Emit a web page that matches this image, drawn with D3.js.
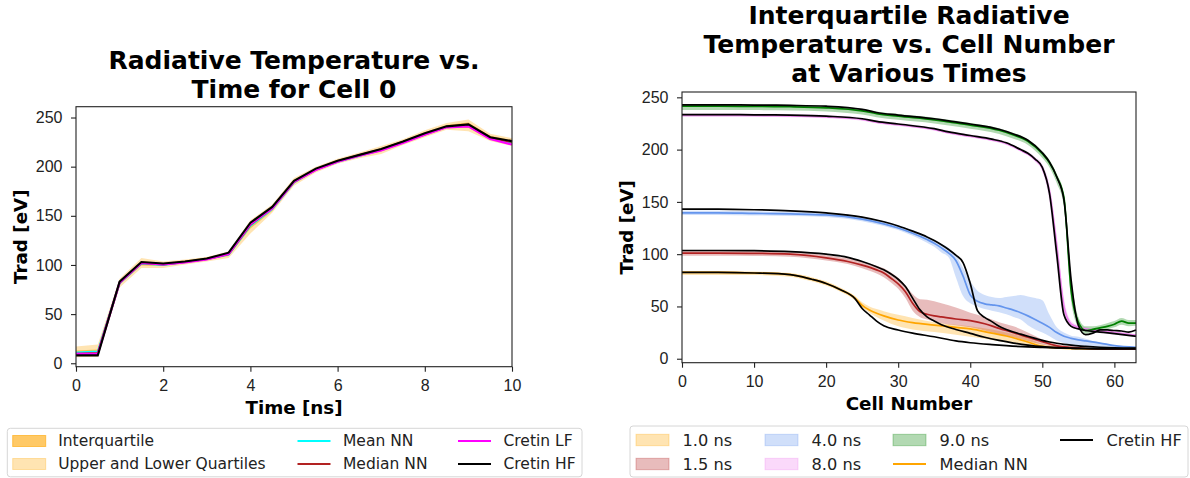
<!DOCTYPE html>
<html>
<head>
<meta charset="utf-8">
<script src="https://cdn.jsdelivr.net/npm/d3@7/dist/d3.min.js"></script>
<style>
  body { margin: 0; background: #fff; }
  svg { font-family: "DejaVu Sans", sans-serif; }
  .axis line { stroke: #222; stroke-width: 1.1; }
  .axis text { font-size: 16px; fill: #222; }
  .label { font-size: 18.3px; font-weight: bold; fill: #000; }
  .title { font-size: 25px; font-weight: bold; fill: #000; }
  .legend text { fill: #222; }
</style>
</head>
<body>
<script>
// ---- left chart: Trad of cell 0 over time ----
var times = [0, 0.5, 1, 1.5, 2, 2.5, 3, 3.5, 4, 4.5, 5, 5.5, 6, 6.5, 7, 7.5, 8, 8.5, 9, 9.5, 10];
var cretinHF0 = [8, 8, 83, 103, 101.5, 103.5, 106.5, 112.5, 143, 159, 185.5, 198, 206, 212, 218, 225.5, 234, 241, 243, 230, 226];
var cretinLF0 = [9.5, 9.5, 82, 102, 100.5, 102.5, 105.5, 111, 141.5, 157.5, 184.5, 196.5, 205, 211, 216.5, 224, 232.5, 240, 241, 228, 222.5];
var meanNN0   = [11, 12, 81.5, 101.5, 100, 103, 106, 110.5, 140, 157, 184, 197, 205, 211, 217, 225, 233, 240.5, 242, 229, 224.5];
var medianNN0 = [9.5, 10.5, 82, 102, 100.5, 103, 106, 111, 141, 158, 184.5, 197, 205.5, 211.5, 217.5, 225, 233, 240.5, 242.5, 229.5, 225];
var iqLo0  = [8, 8.5, 80, 99.5, 99, 102, 105, 109, 137, 155, 182.5, 195.5, 204, 210, 215.5, 223.5, 231.5, 239, 239.5, 227.5, 223.5];
var iqHi0  = [13, 14, 84, 104, 102, 104.5, 107.5, 112.5, 143.5, 160, 186.5, 198.5, 207, 213, 219, 226.5, 235, 242.5, 245, 231.5, 227];
var outLo0 = [6, 6.5, 77, 97, 97, 100.5, 103.5, 107, 132, 153, 180.5, 194, 203, 208.5, 213, 222, 230, 237.5, 236, 226, 221];
var outHi0 = [17, 19, 86, 107, 103.5, 105.5, 108, 114, 145.5, 161.5, 188.5, 200, 208, 214.5, 221, 228, 237, 244.5, 248, 233.5, 229];
var timeTicks = [0, 2, 4, 6, 8, 10];
var tradTicks = [0, 50, 100, 150, 200, 250];

// ---- right chart: Trad over cell number at various times ----
var cells1 = [0, 5, 10, 15, 18, 20, 22, 24, 25, 26, 27, 28, 30, 32, 35, 38, 40, 43, 45, 48, 50, 52, 55, 58, 63];
var hf1  = [82.5, 82.5, 82, 80.5, 76, 72, 66, 57.5, 48, 42, 36, 31.5, 27.5, 24.5, 21, 17, 15.3, 13.5, 12.5, 11.3, 10.8, 10.4, 10, 9.8, 9.8];
var med1 = [82.5, 82.5, 82, 80.5, 76, 72, 66, 58, 51, 46.5, 43.5, 41, 37, 34.5, 32.2, 30, 28.5, 24.5, 21.7, 16, 11.8, 10.4, 9.6, 9.4, 9.4];
var lo1  = [80, 80, 80, 78.5, 74, 70, 64, 56, 49, 44, 40, 36.5, 31, 28, 25.5, 23, 21, 18, 15.5, 12, 10.5, 9.8, 9.2, 9, 9];
var hi1  = [84, 84, 83.5, 82, 78, 74, 68, 60, 54, 50, 47.5, 45.5, 42, 39, 35, 32.5, 31, 28, 25, 19.5, 14, 11.5, 10, 9.8, 9.8];

var cells15 = [0, 5, 10, 15, 20, 23, 25, 27, 28, 29, 30, 31, 32, 33, 34, 35, 36, 38, 40, 42, 44, 46, 48, 50, 52, 54, 56, 58, 60, 63];
var hf15  = [103.5, 103.5, 103.3, 102.5, 100, 97, 93, 88, 85, 81, 76, 69, 58, 47, 40, 36, 32.5, 28, 24.3, 20.5, 17.5, 15, 13, 11.5, 10.6, 10, 9.6, 9.5, 9.5, 9.5];
var med15 = [101, 101, 100.8, 100, 96.5, 93, 89.5, 85, 82, 77, 71.5, 64, 53, 45, 42.5, 41, 40, 38, 36.4, 33.5, 29, 25, 20.5, 16.3, 12.3, 10.8, 9.8, 9.3, 9.2, 9.2];
var lo15  = [98.5, 98.5, 98.3, 97.5, 94, 90.5, 86.5, 81.5, 78, 73, 67, 58, 46, 40, 37.5, 35.5, 34, 32, 30, 27, 23.5, 20.5, 17, 13.5, 11, 10, 9.3, 9, 8.9, 8.9];
var hi15  = [103, 103, 103, 102.5, 99, 96, 93, 89, 86.5, 82.5, 77.5, 70, 62, 57, 56.5, 55, 53, 49, 44, 40, 35, 31, 25, 18.5, 14, 11.5, 10.3, 9.8, 9.6, 9.6];

var cells4 = [0, 5, 10, 15, 20, 25, 28, 30, 32, 34, 35, 36, 37, 38, 39, 40, 41, 42, 43, 44, 45, 46, 47, 48, 49, 50, 51, 52, 53, 54, 55, 56, 58, 60, 63];
var hf4  = [143, 143, 142.5, 141.5, 139.5, 135.5, 131, 127, 122, 116.5, 113, 109, 104.5, 99, 92, 72, 46, 39.5, 35.5, 31, 28, 25.5, 23.5, 21.5, 19.5, 17.5, 16, 14.8, 13.8, 13, 12.3, 11.8, 11, 10.5, 10.2];
var med4 = [139.5, 139.5, 139, 138.5, 137.5, 133.5, 129, 125, 120, 114, 110.5, 106, 101, 94, 79, 61, 55, 52.5, 51.5, 50.5, 48.5, 46.5, 44, 41, 37.5, 34, 30, 25, 21.5, 19.5, 18, 17, 15, 12.5, 11];
var lo4  = [137.5, 137.5, 137, 136.5, 135.5, 131.5, 127, 123, 117.5, 111, 107, 101.5, 97, 78, 60, 53, 50, 47.5, 46, 44.5, 42.5, 40, 37.5, 32, 28, 25, 21.5, 17.5, 15, 13, 12, 11.3, 10.5, 10, 9.8];
var hi4  = [141.5, 141.5, 141, 140.5, 139.5, 135.5, 131.5, 128, 123, 117, 113, 110, 106, 99, 87, 74, 65, 61, 59, 58, 59, 60, 61, 59.5, 58, 56, 42, 30, 25, 22, 21, 19, 15, 13, 11.5];

var cells8 = [0, 5, 10, 15, 20, 25, 27, 30, 35, 37, 40, 43, 45, 47, 48, 49, 50, 51, 52, 53, 54, 55, 56, 58, 60, 63];
var hf8  = [233.5, 233.5, 233.3, 233, 232, 229.5, 227, 224.5, 220, 217, 213.5, 210, 206.5, 200, 196.5, 191, 183, 158, 100, 42, 31, 28.5, 27, 25.5, 24, 21.5];
var med8 = [232.8, 232.8, 232.6, 232.3, 231.3, 228.8, 226.3, 223.8, 219.3, 216.3, 212.8, 209.3, 205.8, 199.3, 195.8, 190.5, 182.5, 160, 108, 50, 33, 30, 28.5, 26.5, 25, 22.5];
var lo8  = [231.5, 231.5, 231.3, 231, 230, 227.5, 225, 222.5, 218, 215, 211.5, 208, 204.5, 198, 194.5, 188.5, 179, 150, 90, 40, 30, 27.5, 26, 24.5, 23, 20.5];
var hi8  = [234.5, 234.5, 234.3, 234, 233, 230.5, 228, 225.5, 221, 218, 214.5, 211, 207.5, 201, 198, 193, 186, 166, 118, 58, 36, 32, 30, 28, 26.5, 23.5];

var cells9 = [0, 5, 10, 15, 20, 25, 27, 30, 35, 37, 40, 44, 46, 48, 50, 51, 52, 53, 54, 55, 56, 57, 58, 59, 60, 61, 62, 63];
var hf9  = [242.8, 242.8, 242.6, 242.3, 241.5, 238.5, 235.5, 233, 229.5, 227.5, 224.5, 219.5, 215, 209, 197, 188, 174, 152, 75, 32, 23, 24.5, 27.5, 27.5, 27, 26.5, 25.5, 27.5];
var med9 = [241.5, 241.5, 241.3, 241, 240, 237, 234.5, 232, 228.5, 226.5, 223.5, 218.5, 214, 208, 196, 187.5, 174, 154, 65, 35, 27, 28, 29.5, 31, 33, 36, 34, 34];
var lo9  = [238, 238, 237.8, 237.5, 236.5, 233.5, 231, 228.5, 225, 223, 220, 215, 210.5, 204.5, 192, 183, 168, 146, 55, 30, 24, 25, 26.5, 28, 30, 32.5, 31, 31.5];
var hi9  = [243.5, 243.5, 243.3, 243, 242, 239, 236.5, 234, 230.5, 228.5, 225.5, 220.5, 216, 210, 198.5, 190, 177, 158, 78, 40, 31, 31, 32, 34, 36, 39, 37, 37];
var cellTicks = [0, 10, 20, 30, 40, 50, 60];

var timeLabels = ["1.0 ns", "1.5 ns", "4.0 ns", "8.0 ns", "9.0 ns"];
var timeColors = ["orange", "firebrick", "cornflowerblue", "violet", "green"];

var svg = d3.select("body").append("svg").attr("width", 1190).attr("height", 478);

// draws ticks, tick labels and the box round a plot area
function drawFrame(x, y, xTicks, yTicks) {
  var x0 = x.range()[0], x1 = x.range()[1], y0 = y.range()[0], y1 = y.range()[1];
  svg.append("g").attr("class", "axis")
      .attr("transform", "translate(0," + y0 + ")")
      .call(d3.axisBottom(x).tickValues(xTicks).tickSize(5).tickPadding(8).tickFormat(d3.format("d")))
      .call(function(g) { g.select(".domain").remove(); });
  svg.append("g").attr("class", "axis")
      .attr("transform", "translate(" + x0 + ",0)")
      .call(d3.axisLeft(y).tickValues(yTicks).tickSize(5).tickPadding(8.5).tickFormat(d3.format("d")))
      .call(function(g) { g.select(".domain").remove(); });
  svg.append("rect")
      .attr("x", x0).attr("y", y1)
      .attr("width", x1 - x0).attr("height", y0 - y1)
      .attr("fill", "none").attr("stroke", "#222").attr("stroke-width", 1.1);
}

// ---------- left chart ----------
var xL = d3.scaleLinear().domain([0, 10]).range([76, 512]);
var yL = d3.scaleLinear().domain([-3.5, 261]).range([366.7, 106.7]);

var bandL = function(lo, hi) {
  return d3.area()
    .x(function(d, i) { return xL(times[i]); })
    .y0(function(d, i) { return yL(lo[i]); })
    .y1(function(d, i) { return yL(hi[i]); })(times);
};
var lineL = function(vals) {
  return d3.line()
    .x(function(d, i) { return xL(times[i]); })
    .y(function(d) { return yL(d); })(vals);
};

svg.append("path").attr("d", bandL(outLo0, outHi0)).attr("fill", "orange").attr("fill-opacity", 0.3);
svg.append("path").attr("d", bandL(iqLo0, iqHi0)).attr("fill", "orange").attr("fill-opacity", 0.6);

[[meanNN0, "cyan"], [medianNN0, "firebrick"], [cretinLF0, "magenta"], [cretinHF0, "black"]].forEach(function(s) {
  svg.append("path").attr("d", lineL(s[0]))
     .attr("fill", "none").attr("stroke", s[1]).attr("stroke-width", 2.1);
});

drawFrame(xL, yL, timeTicks, tradTicks);

svg.append("text").attr("class", "title").attr("text-anchor", "middle")
   .attr("x", 294).attr("y", 69).text("Radiative Temperature vs.");
svg.append("text").attr("class", "title").attr("text-anchor", "middle")
   .attr("x", 294).attr("y", 98).text("Time for Cell 0");
svg.append("text").attr("class", "label").attr("text-anchor", "middle")
   .attr("x", 294).attr("y", 414.3).text("Time [ns]");
svg.append("text").attr("class", "label").attr("text-anchor", "middle")
   .attr("transform", "translate(27,236.7) rotate(-90)").text("Trad [eV]");

// ---------- right chart ----------
var xR = d3.scaleLinear().domain([0, 63]).range([682, 1136]);
var yR = d3.scaleLinear().domain([-3.8, 255.1]).range([362.7, 92]);

var series = [
  {cells: cells1,  hf: hf1,  med: med1,  lo: lo1,  hi: hi1},
  {cells: cells15, hf: hf15, med: med15, lo: lo15, hi: hi15},
  {cells: cells4,  hf: hf4,  med: med4,  lo: lo4,  hi: hi4},
  {cells: cells8,  hf: hf8,  med: med8,  lo: lo8,  hi: hi8},
  {cells: cells9,  hf: hf9,  med: med9,  lo: lo9,  hi: hi9}
];

series.forEach(function(s, k) {
  var area = d3.area().curve(d3.curveMonotoneX)
    .x(function(d) { return xR(d); })
    .y0(function(d, i) { return yR(s.lo[i]); })
    .y1(function(d, i) { return yR(s.hi[i]); });
  svg.append("path").attr("d", area(s.cells))
     .attr("fill", timeColors[k]).attr("fill-opacity", 0.3);
});

series.forEach(function(s, k) {
  var line = d3.line().curve(d3.curveMonotoneX)
    .x(function(d) { return xR(d); })
    .y(function(d, i) { return yR(s.med[i]); });
  svg.append("path").attr("d", line(s.cells))
     .attr("fill", "none").attr("stroke", timeColors[k]).attr("stroke-width", 1.7);
});

series.forEach(function(s) {
  var line = d3.line().curve(d3.curveMonotoneX)
    .x(function(d) { return xR(d); })
    .y(function(d, i) { return yR(s.hf[i]); });
  svg.append("path").attr("d", line(s.cells))
     .attr("fill", "none").attr("stroke", "black").attr("stroke-width", 1.7);
});

drawFrame(xR, yR, cellTicks, tradTicks);

["Interquartile Radiative", "Temperature vs. Cell Number", "at Various Times"].forEach(function(t, i) {
  svg.append("text").attr("class", "title").attr("text-anchor", "middle")
     .attr("x", 909).attr("y", 24 + i * 29).text(t);
});
svg.append("text").attr("class", "label").attr("text-anchor", "middle")
   .attr("x", 909).attr("y", 410.3).text("Cell Number");
svg.append("text").attr("class", "label").attr("text-anchor", "middle")
   .attr("transform", "translate(633,227.3) rotate(-90)").text("Trad [eV]");

// ---------- legends ----------
function legendBox(x, y, w, h, fs) {
  var g = svg.append("g").attr("class", "legend").style("font-size", fs + "px");
  g.append("rect").attr("x", x).attr("y", y).attr("width", w).attr("height", h).attr("rx", 3)
   .attr("fill", "white").attr("stroke", "#d6d6d6").attr("stroke-width", 1);
  return g;
}
function legendItem(g, item, hx, hw, ty, tx, ph) {
  if (item.kind === "patch") {
    g.append("rect").attr("x", hx).attr("y", ty - ph / 2).attr("width", hw).attr("height", ph)
     .attr("fill", item.color).attr("fill-opacity", item.alpha)
     .attr("stroke", item.color).attr("stroke-opacity", item.alpha);
  } else {
    g.append("line").attr("x1", hx).attr("x2", hx + hw).attr("y1", ty).attr("y2", ty)
     .attr("stroke", item.color).attr("stroke-width", 2);
  }
  g.append("text").attr("x", tx).attr("y", ty).attr("dy", "0.35em").text(item.label);
}

var leftItems = [
  {label: "Interquartile", kind: "patch", color: "orange", alpha: 0.6},
  {label: "Upper and Lower Quartiles", kind: "patch", color: "orange", alpha: 0.3},
  {label: "Mean NN", kind: "line", color: "cyan"},
  {label: "Median NN", kind: "line", color: "firebrick"},
  {label: "Cretin LF", kind: "line", color: "magenta"},
  {label: "Cretin HF", kind: "line", color: "black"}
];
var gL = legendBox(7.3, 428.3, 574.7, 48.5, 15.5);
var colL = [12.7, 297.5, 458];
leftItems.forEach(function(it, i) {
  var c = Math.floor(i / 2), r = i % 2;
  legendItem(gL, it, colL[c], 33, 441 + r * 23, colL[c] + 45.5, 11);
});

var rightItems = timeLabels.map(function(t, i) {
  return {label: t, kind: "patch", color: timeColors[i], alpha: 0.3};
});
rightItems.push({label: "Median NN", kind: "line", color: "orange"});
rightItems.push({label: "Cretin HF", kind: "line", color: "black"});
var gR = legendBox(630, 426, 558, 51, 16.2);
var colR = [636, 765, 893, 1060];
rightItems.forEach(function(it, i) {
  var c = Math.floor(i / 2), r = i % 2;
  legendItem(gR, it, colR[c], 33, 440 + r * 24, colR[c] + 46.5, 11.4);
});
</script>
</body>
</html>
